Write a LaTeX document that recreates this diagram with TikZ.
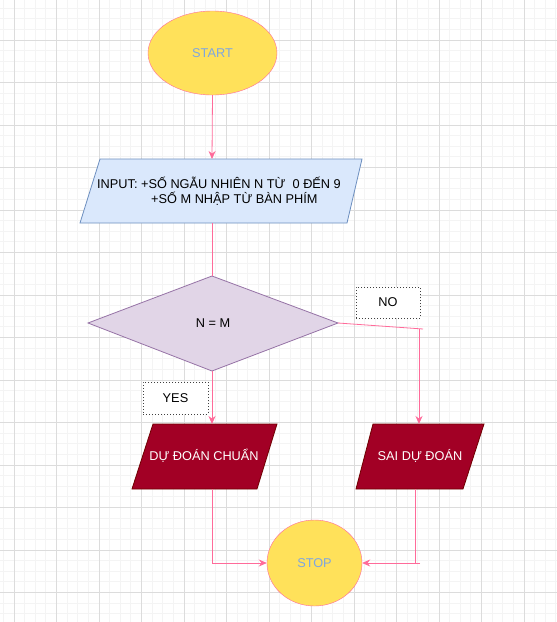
\documentclass[tikz,border=0pt]{standalone}
\usepackage{fontspec}
\setmainfont{Liberation Sans}
\usetikzlibrary{arrows.meta,shapes.geometric}
\definecolor{edgec}{HTML}{FF6B9A}
\definecolor{yel}{HTML}{FFE15A}
\definecolor{bluetxt}{HTML}{7EA6E0}
\definecolor{inpfill}{HTML}{DAE8FC}
\definecolor{inpdraw}{HTML}{6C8EBF}
\definecolor{decfill}{HTML}{E1D5E7}
\definecolor{decdraw}{HTML}{9673A6}
\definecolor{redfill}{HTML}{A20025}
\definecolor{reddraw}{HTML}{6F0000}
\definecolor{gridmin}{HTML}{F4F4F4}
\definecolor{gridmaj}{HTML}{DCDCDC}
\begin{document}
\begin{tikzpicture}[x=1pt,y=-1pt,
  txt/.style={font=\fontsize{12.75}{15}\selectfont, inner sep=0pt},
  term/.style={ellipse, draw=edgec, fill=yel, inner sep=0pt, text=bluetxt, font=\fontsize{12.75}{15}\selectfont},
  conn/.style={draw=edgec, line width=0.8pt},
  arr/.style={conn, -{Stealth[length=8pt,width=7pt]}},
  lbl/.style={draw=black!75, dash pattern=on 1pt off 2pt, fill=white, inner sep=0pt, font=\fontsize{12.75}{15}\selectfont}
]
\useasboundingbox (0,0) rectangle (557,622);
\fill[white] (0,0) rectangle (557,622);
% grid
\foreach \i in {0,...,52} {
  \pgfmathsetmacro\gx{3.375+\i*10.625}
  \draw[gridmin, line width=0.8pt] (\gx,0) -- (\gx,622);
}
\foreach \i in {0,...,59} {
  \pgfmathsetmacro\gy{8.125+\i*10.625}
  \draw[gridmin, line width=0.8pt] (0,\gy) -- (557,\gy);
}
\foreach \i in {0,...,13} {
  \pgfmathsetmacro\gx{14+\i*42.5}
  \draw[gridmaj, line width=0.8pt] (\gx,0) -- (\gx,622);
}
\foreach \i in {0,...,14} {
  \pgfmathsetmacro\gy{-2.5+\i*42.5}
  \draw[gridmaj, line width=0.8pt] (0,\gy) -- (557,\gy);
}

% START
\node[term, minimum width=129pt, minimum height=84pt] (start) at (212.5,53) {START};

% INPUT parallelogram
\coordinate (inTL) at (100,159);
\coordinate (inTR) at (362,159);
\coordinate (inBR) at (347,223);
\coordinate (inBL) at (80,223);
\coordinate (inTop) at (212,159);
\coordinate (inBot) at (212,223);
\draw[fill=inpfill, draw=inpdraw, line width=0.8pt] (inTL) -- (inTR) -- (inBR) -- (inBL) -- cycle;
\node[txt, anchor=west] (inA) at (97,183) {INPUT: +SỐ NGẪU NHIÊN N TỪ\ \ 0 ĐẾN 9};
\node[txt, anchor=west] (inB) at (151,198.5) {+SỐ M NHẬP TỪ BÀN PHÍM};

% decision diamond
\coordinate (dT) at (212,276);
\coordinate (dR) at (338,323);
\coordinate (dB) at (212,371);
\coordinate (dL) at (88,323);
\draw[fill=decfill, draw=decdraw, line width=0.8pt] (dT) -- (dR) -- (dB) -- (dL) -- cycle;
\node[txt] (dtext) at (213,323) {N = M};

% DỰ ĐOÁN CHUẨN
\coordinate (aTL) at (153,424);
\coordinate (aTR) at (277,424);
\coordinate (aBR) at (257,489);
\coordinate (aBL) at (132,489);
\coordinate (aTop) at (212,424);
\coordinate (aBot) at (212,489);
\draw[fill=redfill, draw=reddraw, line width=0.8pt] (aTL) -- (aTR) -- (aBR) -- (aBL) -- cycle;
\node[txt, text=white] (atext) at (204,456) {DỰ ĐOÁN CHUẨN};

% SAI DỰ ĐOÁN
\coordinate (bTL) at (373,424);
\coordinate (bTR) at (484,424);
\coordinate (bBR) at (463,489);
\coordinate (bBL) at (356,489);
\coordinate (bTop) at (419,424);
\coordinate (bBot) at (415,489);
\draw[fill=redfill, draw=reddraw, line width=0.8pt] (bTL) -- (bTR) -- (bBR) -- (bBL) -- cycle;
\node[txt, text=white] (btext) at (420,456) {SAI DỰ ĐOÁN};

% STOP
\node[term, minimum width=95pt, minimum height=86pt] (stop) at (314.5,563) {STOP};

% connectors
\draw[arr] (start.south) -- (inTop);
\draw[conn] (inBot) -- (dT);
\draw[arr] (dB) -- (aTop);
\coordinate (noC) at (423,329);
\coordinate (noD) at (419,329);
\draw[conn] (dR) -- (noC);
\draw[arr] (noD) -- (bTop);
\coordinate (aC) at (212,563);
\draw[arr] (aBot) -- (aC) -- (stop.west);
\coordinate (bC) at (415,563);
\coordinate (bE) at (420,563);
\draw[conn] (bBot) -- (bC);
\draw[arr] (bE) -- (stop.east);

% labels
\node[lbl, minimum width=64pt, minimum height=31pt] (nolbl) at (388,302.5) {NO};
\node[lbl, minimum width=65pt, minimum height=32pt] (yeslbl) at (175.5,398) {YES};
\end{tikzpicture}
\end{document}
